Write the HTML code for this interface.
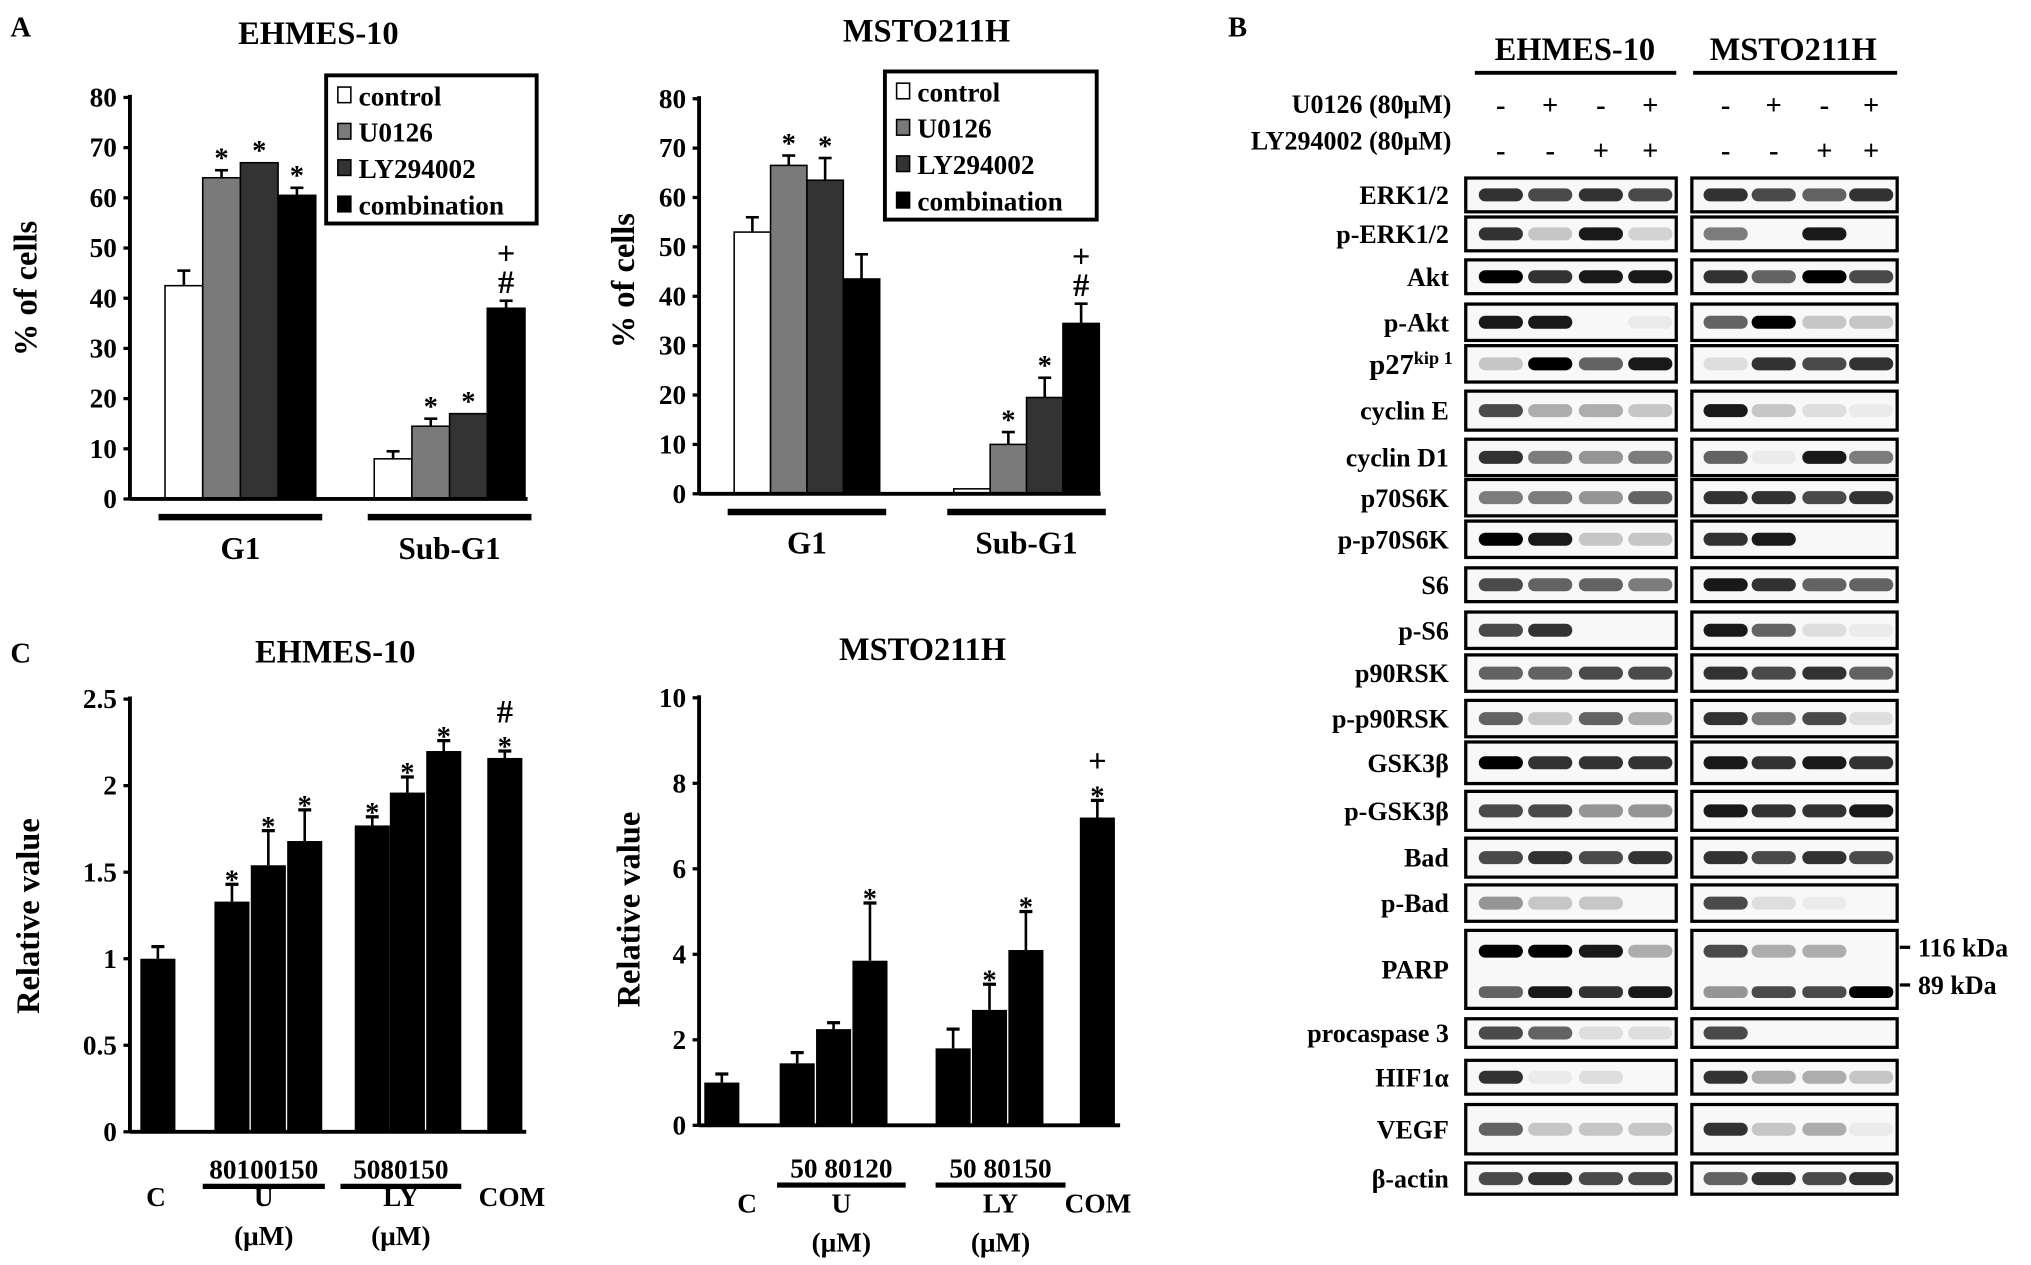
<!DOCTYPE html>
<html><head><meta charset="utf-8">
<style>
html,body{margin:0;padding:0;background:#fff;}
svg{display:block;font-family:"Liberation Serif",serif;font-weight:bold;}
</style></head>
<body>
<svg id="fig" width="2031" height="1265" viewBox="0 0 1563 973.5" preserveAspectRatio="none" xmlns="http://www.w3.org/2000/svg">
<rect width="1563" height="973.5" fill="#fff"/>
<text x="8" y="28" font-size="22">A</text>
<text x="8" y="510" font-size="22">C</text>
<text x="945" y="28" font-size="22">B</text>
</svg>
<script>
// ---------- Panel A data ----------
const aGroups = ["G1","Sub-G1"];
const aSeries = ["control","U0126","LY294002","combination"];
const aColors = ["#fff","#7a7a7a","#333","#000"];
const aEhmesVals = [[42.5,64,67,60.5],[8,14.5,17,38]];
const aEhmesErr = [[3,1.5,0,1.5],[1.5,1.5,0,1.5]];
const aEhmesMarks = [["","*","*","*"],["","*","*","+#"]];
const aMstoVals = [[53,66.5,63.5,43.5],[1,10,19.5,34.5]];
const aMstoErr = [[3,2,4.5,5],[0,2.5,4,4]];
const aMstoMarks = [["","*","*",""],["","*","*","+#"]];
const aTicks = [0,10,20,30,40,50,60,70,80];
// ---------- Panel C data ----------
const cEhmesVals = [1,1.33,1.54,1.68,1.77,1.96,2.2,2.16];
const cEhmesErr = [0.07,0.1,0.2,0.18,0.05,0.09,0.06,0.04];
const cEhmesMarks = ["","*","*","*","*","*","*","#*"];
const cEhmesTicks = ["0","0.5","1","1.5","2","2.5"];
const cMstoVals = [1,1.45,2.25,3.85,1.8,2.7,4.1,7.2];
const cMstoErr = [0.2,0.25,0.15,1.35,0.45,0.6,0.9,0.4];
const cMstoMarks = ["","","","*","","*","*","+*"];
const cMstoTicks = ["0","2","4","6","8","10"];
// ---------- Panel B data ----------
const bRows = ["ERK1/2","p-ERK1/2","Akt","p-Akt","p27","cyclin E","cyclin D1","p70S6K","p-p70S6K","S6","p-S6","p90RSK","p-p90RSK","GSK3β","p-GSK3β","Bad","p-Bad","PARP","procaspase 3","HIF1α","VEGF","β-actin"];
const bIntensity = [
[.8,.7,.8,.7,.8,.7,.6,.8],[.8,.2,.9,.15,.5,0,.9,0],[1,.8,.9,.9,.8,.6,1,.7],[.9,.9,0,.05,.6,1,.2,.2],
[.2,1,.6,.9,.1,.8,.7,.8],[.7,.3,.3,.2,.9,.2,.1,.05],[.8,.5,.4,.5,.6,.05,.9,.5],[.5,.5,.4,.6,.8,.8,.7,.8],
[1,.9,.2,.2,.8,.9,0,0],[.7,.6,.6,.5,.9,.8,.6,.6],[.7,.8,0,0,.9,.6,.1,.05],[.6,.6,.7,.7,.8,.7,.8,.6],
[.6,.2,.6,.3,.8,.5,.7,.1],[1,.8,.8,.8,.9,.8,.9,.8],[.7,.7,.4,.4,.9,.8,.8,.9],[.7,.8,.7,.8,.8,.7,.8,.7],
[.4,.2,.2,0,.7,.1,.05,0],[1,1,.9,.3,.7,.3,.3,0],[.7,.6,.1,.1,.7,0,0,0],[.8,.05,.1,0,.8,.3,.3,.2],
[.6,.2,.2,.2,.8,.2,.3,.05],[.7,.8,.7,.7,.6,.8,.7,.8]];
const bParpLower = [.6,.9,.8,.9,.4,.7,.7,1];
const bU = ["-","+","-","+","-","+","-","+"];
const bLY = ["-","-","+","+","-","-","+","+"];

const svg = document.getElementById('fig');
const NS = "http://www.w3.org/2000/svg";
function mk(tag, attrs, parent, text){
  const e = document.createElementNS(NS, tag);
  for (const k in attrs) e.setAttribute(k, attrs[k]);
  if (text !== undefined) e.textContent = text;
  (parent||svg).appendChild(e);
  return e;
}
function txt(x,y,s,size,anchor,parent){
  return mk('text',{x:x,y:y,'font-size':size,'text-anchor':anchor||'middle'},parent,s);
}

// ---------- Panel A ----------
function chartA(cfg){
  const g = mk('g',{});
  
  
  const yS = v => cfg.y0 - (v/80)*(cfg.y0-cfg.y80);
  const t = txt(cfg.titleX, cfg.titleY, cfg.title, 25, 'middle', g);
  
  
  aTicks.forEach(v=>{
    mk('line',{x1:cfg.ax-5,x2:cfg.ax,y1:yS(v),y2:yS(v),stroke:'#000','stroke-width':2.5},g);
    const l = txt(cfg.ax-10, yS(v)+7, String(v), 21, 'end', g);
    
    
  });
  const yl = txt(0,0,'% of cells',25,'middle',g);
  yl.setAttribute('transform',`translate(${cfg.ylx},${cfg.yly}) rotate(-90)`);
  
  
  aGroups.forEach((gn,gi)=>{
    const vals = cfg.vals[gi], errs = cfg.err[gi], marks = cfg.marks[gi];
    vals.forEach((v,si)=>{
      const x = cfg.groupX[gi] + si*cfg.bw;
      const top = yS(v), h = cfg.y0-top;
      if (errs[si]>0){
        mk('line',{x1:x+cfg.bw/2,x2:x+cfg.bw/2,y1:top,y2:yS(v+errs[si]),stroke:'#000','stroke-width':2},g);
        mk('line',{x1:x+cfg.bw/2-5,x2:x+cfg.bw/2+5,y1:yS(v+errs[si]),y2:yS(v+errs[si]),stroke:'#000','stroke-width':2},g);
      }
      const b = mk('rect',{x:x,y:top,width:cfg.bw,height:h,fill:aColors[si],stroke:'#000','stroke-width':1.2},g);
      
      
      const m = marks[si];
      const my = yS(v+errs[si]) - 6;
      if (m==='*') txt(x+cfg.bw/2, my+4, '*', 22, 'middle', g);
      else if (m==='+#'){ txt(x+cfg.bw/2, my, '#', 25, 'middle', g); txt(x+cfg.bw/2, my-22, '+', 25, 'middle', g); }
    });
    const gx0 = cfg.groupX[gi]-5, gx1 = cfg.groupX[gi]+4*cfg.bw+5;
    mk('line',{x1:gx0,x2:gx1,y1:cfg.y0+14,y2:cfg.y0+14,stroke:'#000','stroke-width':5},g);
    const gl = txt((gx0+gx1)/2, cfg.y0+46, gn, 24, 'middle', g);
    
    
  });
  mk('line',{x1:cfg.ax,x2:cfg.ax,y1:cfg.y80-2,y2:cfg.y0,stroke:'#000','stroke-width':3},g);
  mk('line',{x1:cfg.ax,x2:cfg.axEnd,y1:cfg.y0,y2:cfg.y0,stroke:'#000','stroke-width':3},g);
  const lg = mk('g',{},g);
  
  
  mk('rect',{x:cfg.lx,y:cfg.ly,width:cfg.lw,height:cfg.lh,fill:'#fff',stroke:'#000','stroke-width':3},lg);
  aSeries.forEach((s,i)=>{
    const yy = cfg.ly+16+i*28;
    const sw = mk('rect',{x:cfg.lx+9,y:yy-7,width:10,height:12,fill:aColors[i],stroke:'#000','stroke-width':1.2},lg);
    
    
    const lt = txt(cfg.lx+25, yy+7, s, 21, 'start', lg);
    
    
  });
}
chartA({name:'chart-a-ehmes10',title:'EHMES-10',titleX:245,titleY:34,ax:100,axEnd:406,y0:384,y80:75,bw:29,groupX:[127,288],
  vals:aEhmesVals,err:aEhmesErr,marks:aEhmesMarks,ylx:28,yly:222,lx:251,ly:58,lw:162,lh:114});
chartA({name:'chart-a-msto211h',title:'MSTO211H',titleX:713,titleY:32,ax:538,axEnd:847,y0:380,y80:76,bw:28,groupX:[565,734],
  vals:aMstoVals,err:aMstoErr,marks:aMstoMarks,ylx:488,yly:216,lx:681,ly:55,lw:163,lh:114});

// ---------- Panel C ----------
function chartC(cfg){
  const g = mk('g',{});
  
  
  const yS = v => cfg.y0 - (v/cfg.max)*(cfg.y0-cfg.yTop);
  const t = txt(cfg.titleX, cfg.titleY, cfg.title, 25, 'middle', g);
  
  
  cfg.ticks.forEach(s=>{
    const v = parseFloat(s);
    mk('line',{x1:cfg.ax-5,x2:cfg.ax,y1:yS(v),y2:yS(v),stroke:'#000','stroke-width':2.5},g);
    const l = txt(cfg.ax-10, yS(v)+7, s, 21, 'end', g);
    
    
  });
  const yl = txt(0,0,'Relative value',25,'middle',g);
  yl.setAttribute('transform',`translate(${cfg.ylx},${cfg.yly}) rotate(-90)`);
  
  
  cfg.vals.forEach((v,i)=>{
    const x = cfg.barX[i], e = cfg.err[i];
    const top = yS(v);
    mk('line',{x1:x+cfg.bw/2,x2:x+cfg.bw/2,y1:top,y2:yS(v+e),stroke:'#000','stroke-width':2},g);
    mk('line',{x1:x+cfg.bw/2-5,x2:x+cfg.bw/2+5,y1:yS(v+e),y2:yS(v+e),stroke:'#000','stroke-width':2.5},g);
    const b = mk('rect',{x:x,y:top,width:cfg.bw,height:cfg.y0-top,fill:'#000'},g);
    
    
    const m = cfg.marks[i]; let my = yS(v+e)-2;
    for (let k=m.length-1;k>=0;k--){
      txt(x+cfg.bw/2, m[k]==='*'? my+6 : my, m[k], m[k]==='*'?22:25, 'middle', g);
      my -= 20;
    }
  });
  mk('line',{x1:cfg.ax,x2:cfg.ax,y1:cfg.yTop-2,y2:cfg.y0,stroke:'#000','stroke-width':3},g);
  mk('line',{x1:cfg.ax,x2:cfg.axEnd,y1:cfg.y0,y2:cfg.y0,stroke:'#000','stroke-width':3},g);
  const xl = mk('g',{},g);
  
  
  txt(cfg.cX, cfg.labY, 'C', 21, 'middle', xl);
  txt(cfg.comX, cfg.labY, 'COM', 21, 'middle', xl);
  cfg.grp.forEach(gp=>{
    txt((gp[0]+gp[1])/2, cfg.doseY, gp[2], 21, 'middle', xl);
    mk('line',{x1:gp[0],x2:gp[1],y1:cfg.doseY+6,y2:cfg.doseY+6,stroke:'#000','stroke-width':4},xl);
    txt((gp[0]+gp[1])/2, cfg.labY, gp[3], 21, 'middle', xl);
    txt((gp[0]+gp[1])/2, cfg.labY+30, '(μM)', 21, 'middle', xl);
  });
}
chartC({name:'chart-c-ehmes10',title:'EHMES-10',titleX:258,titleY:510,ax:100,axEnd:405,y0:871,yTop:538,max:2.5,bw:27,
  barX:[108,165,193,221,273,300,328,375],vals:cEhmesVals,err:cEhmesErr,marks:cEhmesMarks,ticks:cEhmesTicks,
  ylx:30,yly:705,cX:120,comX:394,labY:928,doseY:907,grp:[[156,250,'80100150','U'],[262,355,'5080150','LY']]});
chartC({name:'chart-c-msto211h',title:'MSTO211H',titleX:710,titleY:508,ax:538,axEnd:862,y0:866,yTop:537,max:10,bw:27,
  barX:[542,600,628,656,720,748,776,831],vals:cMstoVals,err:cMstoErr,marks:cMstoMarks,ticks:cMstoTicks,
  ylx:492,yly:700,cX:575,comX:845,labY:933,doseY:906,grp:[[598,697,'50 80120','U'],[720,820,'50 80150','LY']]});

// ---------- Panel B ----------
(function(){
  const g = mk('g',{});
  
  
  const boxes = [[1128,1290],[1302,1460]];
  const laneX = [1155,1193,1232,1270,1328,1365,1404,1440];
  txt(1212,46,'EHMES-10',25,'middle',g); mk('line',{x1:1135,x2:1290,y1:56,y2:56,stroke:'#000','stroke-width':3},g);
  txt(1380,46,'MSTO211H',25,'middle',g); mk('line',{x1:1303,x2:1460,y1:56,y2:56,stroke:'#000','stroke-width':3},g);
  txt(1117,87,'U0126 (80μM)',20,'end',g);
  txt(1117,115,'LY294002 (80μM)',20,'end',g);
  laneX.forEach((x,i)=>{ txt(x,88,bU[i],22,'middle',g); txt(x,123,bLY[i],22,'middle',g); });
  const rowY = [150,180,213,248,280,316,352,383,415,450,485,518,553,587,624,660,695,746,795,829,869,907];
  const rowH = [26,26,26,28,28,30,28,28,28,26,28,28,28,32,30,30,28,60,22,26,38,24];
  bRows.forEach((r,i)=>{
    const cy = rowY[i], h = rowH[i];
    const lbl = r==='p27' ? null : txt(1115, cy+7, r, 20, 'end', g);
    if (r==='p27'){
      const t = mk('text',{x:1100,y:cy+8,'font-size':22,'text-anchor':'end'},g);
      t.appendChild(document.createTextNode('p27'));
      mk('tspan',{'font-size':14,dy:-8},t,'kip 1');
      t.setAttribute('transform','translate(18,0)');
      
      
    } else {
      
      
    }
    boxes.forEach((b,bi)=>{
      mk('rect',{x:b[0],y:cy-h/2,width:b[1]-b[0],height:h,fill:'#f8f8f8',stroke:'#000','stroke-width':2.5},g);
      for (let l=0;l<4;l++){
        const li = bi*4+l;
        const op = bIntensity[i][li];
        const by = r==='PARP' ? cy-14 : cy;
        if (op>0.02){
          const band = mk('rect',{x:laneX[li]-17,y:by-5,width:34,height:10,rx:5,fill:'#000','fill-opacity':op},g);
          
          
        }
        if (r==='PARP'){
          const band2 = mk('rect',{x:laneX[li]-17,y:cy+13,width:34,height:9,rx:4,fill:'#000','fill-opacity':bParpLower[li]},g);
          
          
        }
      }
    });
  });
  mk('line',{x1:1462,x2:1470,y1:729,y2:729,stroke:'#000','stroke-width':2.5},g);
  txt(1476,736,'116 kDa',20,'start',g);
  mk('line',{x1:1462,x2:1470,y1:758,y2:758,stroke:'#000','stroke-width':2.5},g);
  txt(1476,765,'89 kDa',20,'start',g);
})();
</script>
</body></html>
